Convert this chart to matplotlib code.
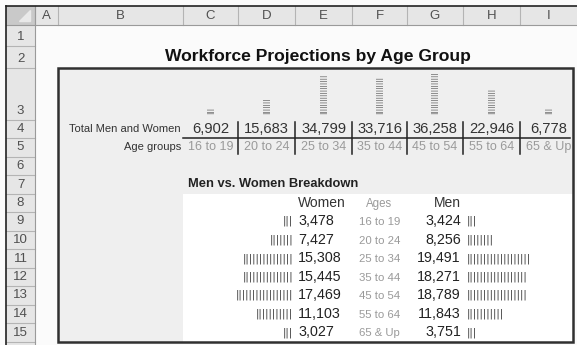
import matplotlib
matplotlib.use("Agg")
import matplotlib.pyplot as plt
from matplotlib.patches import Rectangle, Polygon

# workforce numbers by age group (thousands)
age_groups = ["16 to 19", "20 to 24", "25 to 34", "35 to 44", "45 to 54", "55 to 64", "65 & Up"]
total = [6902, 15683, 34799, 33716, 36258, 22946, 6778]
women = [3478, 7427, 15308, 15445, 17469, 11103, 3027]
men = [3424, 8256, 19491, 18271, 18789, 11843, 3751]

col_letters = ["A", "B", "C", "D", "E", "F", "G", "H", "I"]
col_edges = [35, 58, 183, 238, 295, 352, 407, 463, 520, 577]

# row edges in pixels: header, 1, 2, 3 (tall), then 4..15
row_edges = [6, 25, 46, 68, 119.5] + [119.5 + 18.5 * k for k in range(1, 13)]

FONT = "Liberation Sans"


def row_mid(r):
    return (row_edges[r] + row_edges[r + 1]) / 2


def col_mid(c):
    i = col_letters.index(c)
    return (col_edges[i] + col_edges[i + 1]) / 2


def col_left(c):
    return col_edges[col_letters.index(c)]


def col_right(c):
    return col_edges[col_letters.index(c) + 1]


def rept(value, per):
    return "|" * int(value / per)


fig = plt.figure(figsize=(5.77, 3.45), dpi=100)
ax = fig.add_axes([0, 0, 1, 1])
ax.set_xlim(0, 577)
ax.set_ylim(345, 0)
ax.axis("off")

# sheet background
ax.add_patch(Rectangle((0, 0), 577, 345, color="#fbfbfb", zorder=0))

# column headers
ax.add_patch(Rectangle((6, 6), 571, 19, facecolor="#e6e6e6", edgecolor="none", zorder=1))
ax.add_patch(Rectangle((6, 6), 29, 19, facecolor="#c9c9c9", edgecolor="none", zorder=1))
ax.add_patch(Polygon([[30, 10], [30, 21], [19, 21]], closed=True, color="#e9e9e9", zorder=2))
for i, letter in enumerate(col_letters):
    ax.plot([col_edges[i], col_edges[i]], [6, 25], color="#b4b4b4", lw=0.8, zorder=2)
    ax.text((col_edges[i] + col_edges[i + 1]) / 2, 16, letter, ha="center", va="center",
            fontsize=9.5, color="#505050", family=FONT, zorder=3)

# row headers
ax.add_patch(Rectangle((6, 25), 29, 320, facecolor="#e6e6e6", edgecolor="none", zorder=1))
for r in range(1, 16):
    ax.plot([6, 35], [row_edges[r + 1], row_edges[r + 1]], color="#b4b4b4", lw=0.8, zorder=2)
    ax.text(20.5, row_edges[r + 1] - 9, str(r), ha="center", va="center",
            fontsize=9.5, color="#505050", family=FONT, zorder=3)
ax.plot([6, 577], [25, 25], color="#9a9a9a", lw=0.8, zorder=2)
ax.plot([35, 35], [6, 345], color="#9a9a9a", lw=0.8, zorder=2)
ax.plot([6, 577], [6, 6], color="#222222", lw=1.2, zorder=4)
ax.plot([6, 6], [6, 345], color="#222222", lw=1.2, zorder=4)

# title
ax.text(318, row_mid(2), "Workforce Projections by Age Group", ha="center", va="center",
        fontsize=12.6, fontweight="bold", color="#111111", family=FONT, zorder=3)

# framed dashboard area
box_x0, box_y0, box_x1, box_y1 = 58, 68, 573, 342
ax.add_patch(Rectangle((box_x0, box_y0), box_x1 - box_x0, box_y1 - box_y0,
                       facecolor="#efefef", edgecolor="none", zorder=1))
ax.add_patch(Rectangle((col_left("C"), row_edges[8]), box_x1 - col_left("C"), box_y1 - row_edges[8],
                       facecolor="white", edgecolor="none", zorder=1))
ax.add_patch(Rectangle((box_x0, box_y0), box_x1 - box_x0, box_y1 - box_y0,
                       facecolor="none", edgecolor="#303030", lw=1.8, zorder=5))

# vertical in-cell bars for the totals (rotated REPT text)
cols = ["C", "D", "E", "F", "G", "H", "I"]
for c, v in zip(cols, total):
    ax.text(col_mid(c), row_edges[4] - 5, rept(v, 2000), rotation=90, ha="center", va="bottom",
            fontsize=5.2, color="#555555", family="DejaVu Sans", zorder=3)

# totals and age group rows
ax.text(col_right("B") - 2, row_mid(4), "Total Men and Women", ha="right", va="center",
        fontsize=8, color="#333333", family=FONT, zorder=3)
ax.text(col_right("B") - 2, row_mid(5), "Age groups", ha="right", va="center",
        fontsize=8, color="#333333", family=FONT, zorder=3)
for c, v, g in zip(cols, total, age_groups):
    ax.text(col_mid(c), row_mid(4) + 0.5, f"{v:,}", ha="center", va="center",
            fontsize=10.6, color="#333333", family=FONT, zorder=3)
    ax.text(col_mid(c), row_mid(5), g, ha="center", va="center",
            fontsize=9, color="#9a9a9a", family=FONT, zorder=3)
ax.plot([col_left("C"), box_x1 - 3], [row_edges[5], row_edges[5]], color="#222222", lw=1.1, zorder=3)
for c in cols[1:]:
    x = col_left(c)
    ax.plot([x, x], [row_edges[4] + 2, row_edges[6] - 3], color="#222222", lw=1.1, zorder=3)

# men vs women breakdown
ax.text(col_left("C") + 5, row_mid(7), "Men vs. Women Breakdown", ha="left", va="center",
        fontsize=9.3, fontweight="bold", color="#222222", family=FONT, zorder=3)
ax.text(col_left("E") + 3, row_mid(8), "Women", ha="left", va="center",
        fontsize=10, color="#333333", family=FONT, zorder=3)
ax.text(col_mid("F"), row_mid(8) + 1, "Ages", ha="center", va="center",
        fontsize=8.3, color="#9a9a9a", family=FONT, zorder=3)
ax.text(col_right("G") - 2, row_mid(8), "Men", ha="right", va="center",
        fontsize=10, color="#333333", family=FONT, zorder=3)

for k, (g, w, m) in enumerate(zip(age_groups, women, men)):
    y = row_mid(9 + k)
    ax.text(col_right("D") - 2, y, rept(w, 1000), ha="right", va="center",
            fontsize=7.2, color="#444444", family="DejaVu Sans", zorder=3)
    ax.text(col_left("E") + 3, y, f"{w:,}", ha="left", va="center",
            fontsize=10.3, color="#222222", family=FONT, zorder=3)
    ax.text(col_mid("F"), y + 1, g, ha="center", va="center",
            fontsize=8.2, color="#9a9a9a", family=FONT, zorder=3)
    ax.text(col_right("G") - 2, y, f"{m:,}", ha="right", va="center",
            fontsize=10.3, color="#222222", family=FONT, zorder=3)
    ax.text(col_left("H") + 4, y, rept(m, 1000), ha="left", va="center",
            fontsize=7.2, color="#444444", family="DejaVu Sans", zorder=3)

fig.savefig("out.png", dpi=100)
